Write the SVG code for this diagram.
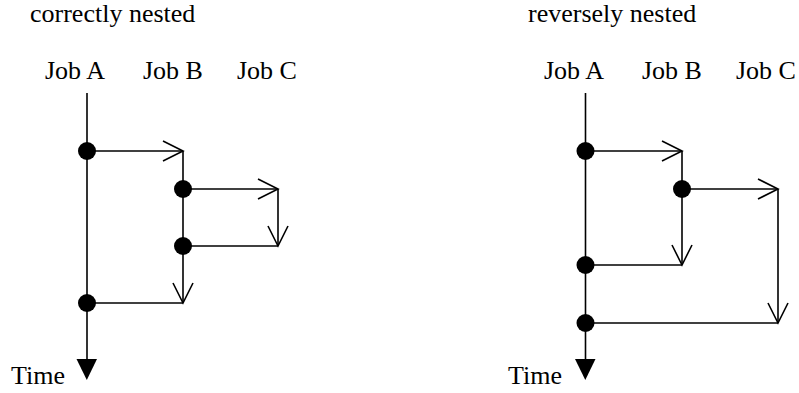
<svg xmlns="http://www.w3.org/2000/svg" width="799" height="393" viewBox="0 0 799 393">
<style>
.t{font-family:'Liberation Serif','Times New Roman',Times,'DejaVu Serif',serif;font-size:26px;fill:#000}
.l{stroke:#000;stroke-width:1.6;fill:none}
.d{fill:#000}
</style>
<rect width="799" height="393" fill="#fff"/>
<g id="left">
<text class="t" x="30" y="22">correctly nested</text>
<g id="jobA1"><text class="t" x="45" y="79">Job A</text></g>
<g id="jobB1"><text class="t" x="143" y="79">Job B</text></g>
<g id="jobC1"><text class="t" x="237" y="79">Job C</text></g>
<g id="time1"><text class="t" x="11" y="384">Time</text></g>
<g id="connectors1">
<line class="l" x1="87" y1="93" x2="87" y2="362"/>
<polygon class="d" points="76.5,359 97,359 86.8,380"/>
<line class="l" x1="87" y1="151" x2="183" y2="151"/>
<polyline class="l" points="163,141 183,151 163,161"/>
<line class="l" x1="183" y1="151" x2="183" y2="303"/>
<polyline class="l" points="173,283 183,303 193,283"/>
<line class="l" x1="183" y1="189" x2="278" y2="189"/>
<polyline class="l" points="258,179 278,189 258,199"/>
<line class="l" x1="278" y1="189" x2="278" y2="246"/>
<polyline class="l" points="268,226 278,246 288,226"/>
<line class="l" x1="183" y1="246" x2="278" y2="246"/>
<line class="l" x1="87" y1="303" x2="183" y2="303"/>
</g>
<g id="dots1">
<circle class="d" cx="87" cy="151" r="9"/>
<circle class="d" cx="183" cy="189" r="9"/>
<circle class="d" cx="183" cy="246" r="9"/>
<circle class="d" cx="87" cy="303" r="9"/>
</g>
</g>
<g id="right">
<text class="t" x="528" y="22">reversely nested</text>
<g id="jobA2"><text class="t" x="544" y="79">Job A</text></g>
<g id="jobB2"><text class="t" x="642" y="79">Job B</text></g>
<g id="jobC2"><text class="t" x="736" y="79">Job C</text></g>
<g id="time2"><text class="t" x="508" y="384">Time</text></g>
<g id="connectors2">
<line class="l" x1="585.5" y1="93" x2="585.5" y2="362"/>
<polygon class="d" points="575,359 595.5,359 585.3,380"/>
<line class="l" x1="585.5" y1="151" x2="682" y2="151"/>
<polyline class="l" points="662,141 682,151 662,161"/>
<line class="l" x1="682" y1="151" x2="682" y2="265"/>
<polyline class="l" points="672,245 682,265 692,245"/>
<line class="l" x1="682" y1="189" x2="778" y2="189"/>
<polyline class="l" points="758,179 778,189 758,199"/>
<line class="l" x1="778" y1="189" x2="778" y2="323"/>
<polyline class="l" points="768,303 778,323 788,303"/>
<line class="l" x1="585.5" y1="265" x2="682" y2="265"/>
<line class="l" x1="585.5" y1="323" x2="778" y2="323"/>
</g>
<g id="dots2">
<circle class="d" cx="585.5" cy="151" r="9"/>
<circle class="d" cx="682" cy="189" r="9"/>
<circle class="d" cx="585.5" cy="265" r="9"/>
<circle class="d" cx="585.5" cy="323" r="9"/>
</g>
</g>
</svg>
